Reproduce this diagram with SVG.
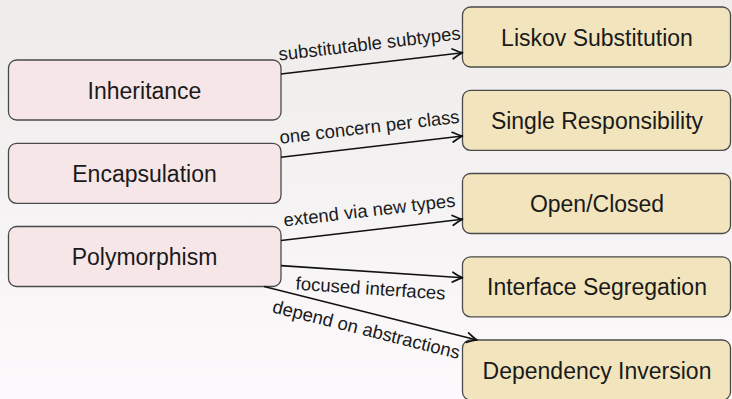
<svg xmlns="http://www.w3.org/2000/svg" width="732" height="399" viewBox="0 0 732 399">
<defs>
<linearGradient id="bg" x1="0" y1="0" x2="0" y2="1">
<stop offset="0" stop-color="#eeebea"/>
<stop offset="1" stop-color="#fcfafc"/>
</linearGradient>
<marker id="arr" markerUnits="userSpaceOnUse" markerWidth="14" markerHeight="14" viewBox="-10 -6 12 12" refX="0" refY="0" orient="auto">
<path d="M-8.5,-4.2 Q-3,-1 0,0 Q-3,1 -8.5,4.2" fill="none" stroke="#111" stroke-width="1.5" stroke-linecap="round" stroke-linejoin="round"/>
</marker>
<style>
.src{fill:#f7e6e8;stroke:#4a4a4a;stroke-width:1.3}
.dst{fill:#f2e5bd;stroke:#4a4a4a;stroke-width:1.3}
.nt{font-family:"Liberation Sans",Arial,sans-serif;font-size:23px;fill:#1a1a1a;text-anchor:middle}
.lt{font-family:"Liberation Sans",Arial,sans-serif;font-size:18.5px;fill:#1a1a1a;text-anchor:middle}
.e{stroke:#111;stroke-width:1.6;fill:none;marker-end:url(#arr)}
</style>
</defs>
<rect x="0" y="0" width="732" height="399" fill="url(#bg)"/>

<g id="inheritance">
<rect class="src" x="8.5" y="60" width="272.5" height="60" rx="8"/>
<text class="nt" x="144.5" y="98.5">Inheritance</text>
</g>
<g id="encapsulation">
<rect class="src" x="8.5" y="143.3" width="272.5" height="60" rx="8"/>
<text class="nt" x="144.5" y="181.8">Encapsulation</text>
</g>
<g id="polymorphism">
<rect class="src" x="8.5" y="226.5" width="272.5" height="60" rx="8"/>
<text class="nt" x="144.5" y="265">Polymorphism</text>
</g>

<g id="liskov">
<rect class="dst" x="462.5" y="7" width="268" height="60" rx="8"/>
<text class="nt" x="597" y="45.5">Liskov Substitution</text>
</g>
<g id="single">
<rect class="dst" x="462.5" y="90.3" width="268" height="60" rx="8"/>
<text class="nt" x="597" y="128.8">Single Responsibility</text>
</g>
<g id="openclosed">
<rect class="dst" x="462.5" y="173.5" width="268" height="60" rx="8"/>
<text class="nt" x="597" y="212">Open/Closed</text>
</g>
<g id="interface">
<rect class="dst" x="462.5" y="256.8" width="268" height="60" rx="8"/>
<text class="nt" x="597" y="295.3">Interface Segregation</text>
</g>
<g id="dependency">
<rect class="dst" x="462.5" y="340" width="268" height="60" rx="8"/>
<text class="nt" x="597" y="378.5">Dependency Inversion</text>
</g>

<g id="connectors">
<line class="e" x1="281" y1="74" x2="462.5" y2="52.7"/>
<line class="e" x1="281" y1="157.3" x2="462.5" y2="136"/>
<line class="e" x1="281" y1="240.5" x2="462.5" y2="219.2"/>
<line class="e" x1="281" y1="265.65" x2="462.5" y2="277.8"/>
<line class="e" x1="264" y1="286.5" x2="477" y2="340"/>
<text class="lt" transform="translate(371.75,63.35) rotate(-6.69)" x="0" y="-13.5">substitutable subtypes</text>
<text class="lt" transform="translate(371.75,146.65) rotate(-6.69)" x="0" y="-13.5">one concern per class</text>
<text class="lt" transform="translate(371.75,229.85) rotate(-6.69)" x="0" y="-13.5">extend via new types</text>
<text class="lt" transform="translate(371.75,271.7) rotate(3.84)" x="0" y="23">focused interfaces</text>
<text class="lt" transform="translate(370.5,313.25) rotate(14.1)" x="0" y="23">depend on abstractions</text>
</g>
</svg>
